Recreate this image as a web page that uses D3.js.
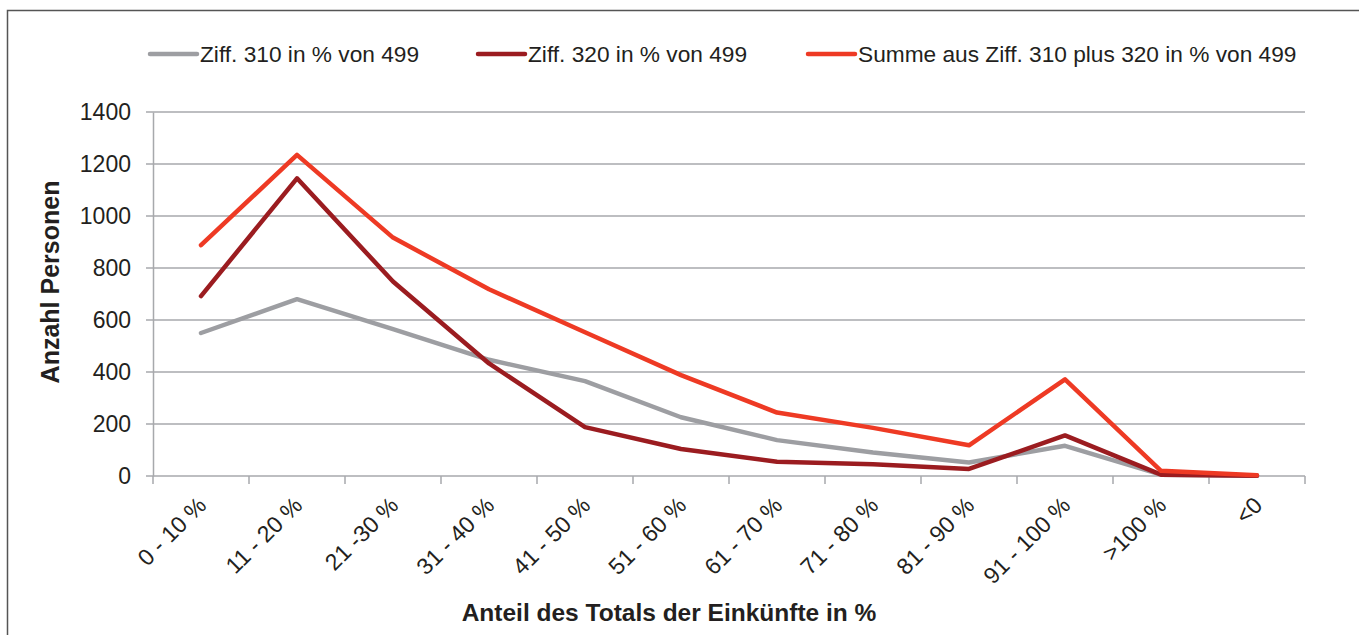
<!DOCTYPE html>
<html>
<head>
<meta charset="utf-8">
<script src="https://cdn.jsdelivr.net/npm/d3@7"></script>
<style>
  body { margin: 0; background: #fff; }
  svg text { font-family: "Liberation Sans", Arial, sans-serif; fill: #231f20; }
</style>
</head>
<body>
<div id="visual-container"></div>
<script>
const categories = ['0 - 10 %', '11 - 20 %', '21 -30 %', '31 - 40 %', '41 - 50 %', '51 - 60 %',
                    '61 - 70 %', '71 - 80 %', '81 - 90 %', '91 - 100 %', '>100 %', '<0']
const ziff310 = [550, 680, 565, 447, 365, 226, 138, 90, 52, 116, 5, 1]
const ziff320 = [692, 1145, 748, 433, 188, 104, 55, 45, 27, 156, 5, 1]
const summe = [888, 1235, 917, 718, 553, 388, 244, 185, 118, 372, 20, 3]
const yTicks = [0, 200, 400, 600, 800, 1000, 1200, 1400]

const seriesNames = ['Ziff. 310 in % von 499', 'Ziff. 320 in % von 499', 'Summe aus Ziff. 310 plus 320 in % von 499']
const seriesColors = ['#9d9ea2', '#9b1c20', '#ee3a24']

const width = 1359
const height = 635
const plotLeft = 153, plotRight = 1305, plotTop = 112, plotBottom = 476

const svg = d3.select('#visual-container')
  .append('svg')
  .attr('width', width)
  .attr('height', height)

// frame
svg.append('rect')
  .attr('x', 7.5).attr('y', 10.5)
  .attr('width', 1360).attr('height', 640)
  .attr('fill', 'none')
  .attr('stroke', '#555')
  .attr('stroke-width', 1.5)

const xScale = d3.scaleBand()
  .domain(categories)
  .range([plotLeft, plotRight])
  .padding(0)

const yScale = d3.scaleLinear()
  .domain([0, 1400])
  .range([plotBottom, plotTop])

// grid
svg.append('g')
  .selectAll('line')
  .data(yTicks)
  .enter()
  .append('line')
  .attr('x1', plotLeft - 7)
  .attr('x2', plotRight)
  .attr('y1', d => yScale(d))
  .attr('y2', d => yScale(d))
  .attr('stroke', '#a7a9ac')
  .attr('stroke-width', 1.5)

const yAxis = d3.axisLeft(yScale).tickValues(yTicks).tickSize(0).tickPadding(22)
  .tickFormat(d3.format('d'))
const yg = svg.append('g')
  .attr('transform', `translate(${plotLeft},0)`)
  .call(yAxis)
yg.select('.domain').attr('stroke', '#a7a9ac').attr('stroke-width', 1.5)
yg.selectAll('text').style('font-size', '23px').attr('fill', '#231f20')

// x tick marks at category boundaries
const boundaries = categories.map(c => xScale(c)).concat([xScale.range()[1]])
svg.append('g')
  .selectAll('line')
  .data(boundaries)
  .enter()
  .append('line')
  .attr('x1', d => d).attr('x2', d => d)
  .attr('y1', plotBottom).attr('y2', plotBottom + 8)
  .attr('stroke', '#a7a9ac')
  .attr('stroke-width', 1.5)

// rotated category labels
svg.append('g')
  .selectAll('text')
  .data(categories)
  .enter()
  .append('text')
  .attr('transform', d => `translate(${xScale(d) + xScale.bandwidth() / 2 + 1},${plotBottom + 25}) rotate(-45)`)
  .attr('text-anchor', 'end')
  .attr('dy', '0.35em')
  .style('font-size', '23px')
  .text(d => d)

// lines
const allSeries = [ziff310, ziff320, summe]
const line = d3.line()
  .x((d, i) => xScale(categories[i]) + xScale.bandwidth() / 2)
  .y(d => yScale(d))

svg.append('g')
  .selectAll('path')
  .data(allSeries)
  .enter()
  .append('path')
  .attr('d', d => line(d))
  .attr('fill', 'none')
  .attr('stroke', (d, i) => seriesColors[i])
  .attr('stroke-width', 4.5)
  .attr('stroke-linejoin', 'round')
  .attr('stroke-linecap', 'round')

// legend
const legendX = [150, 478, 808]
const legend = svg.append('g').attr('id', 'legend')
seriesNames.forEach((name, i) => {
  legend.append('line')
    .attr('x1', legendX[i]).attr('x2', legendX[i] + 47)
    .attr('y1', 54).attr('y2', 54)
    .attr('stroke', seriesColors[i])
    .attr('stroke-width', 4.5)
    .attr('stroke-linecap', 'round')
  legend.append('text')
    .attr('x', legendX[i] + 50)
    .attr('y', 54)
    .attr('dy', '0.35em')
    .style('font-size', '22.7px')
    .text(name)
})

// axis titles
svg.append('text')
  .attr('text-anchor', 'middle')
  .attr('transform', `translate(669, 621)`)
  .style('font-size', '24.5px')
  .style('font-weight', 'bold')
  .text('Anteil des Totals der Einkünfte in %')

svg.append('text')
  .attr('text-anchor', 'middle')
  .attr('transform', `translate(59, 282) rotate(-90)`)
  .style('font-size', '25px')
  .style('font-weight', 'bold')
  .text('Anzahl Personen')
</script>
</body>
</html>
